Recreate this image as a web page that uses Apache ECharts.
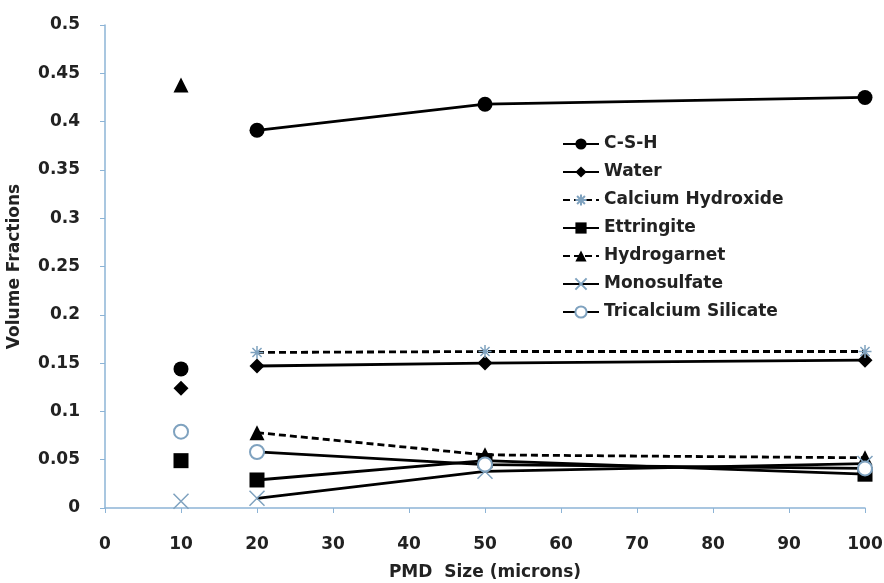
<!DOCTYPE html>
<html>
<head>
<meta charset="utf-8">
<script src="https://cdn.jsdelivr.net/npm/echarts@6/dist/echarts.min.js"></script>
<style>
  html, body { margin: 0; padding: 0; background: #ffffff; }
  #chart { width: 884px; height: 583px; }
</style>
</head>
<body>
<div id="chart"></div>
<script>
// PMD sizes (microns)
var sizes = [10, 20, 50, 100];

// volume fractions per phase, one value per size
var csh = [0.144, 0.391, 0.418, 0.425];
var water = [0.124, 0.147, 0.150, 0.153];
var calciumHydroxide = [0.079, 0.161, 0.162, 0.162];
var ettringite = [0.049, 0.029, 0.049, 0.035];
var hydrogarnet = [0.438, 0.078, 0.055, 0.052];
var monosulfate = [0.007, 0.010, 0.038, 0.046];
var tricalcium = [0.079, 0.058, 0.045, 0.041];

var xTicks = [0, 10, 20, 30, 40, 50, 60, 70, 80, 90, 100];
var yTicks = [0, 0.05, 0.1, 0.15, 0.2, 0.25, 0.3, 0.35, 0.4, 0.45, 0.5];

var axisBlue = "#8db4d6";
var markerGrey = "#7fa2bf";
var font = "DejaVu Sans";

// first size (10) stands alone, the rest are joined by a line
function toData(vals) {
  var d = [[sizes[0], vals[0]], [15, "-"]];
  for (var i = 1; i < sizes.length; i++) d.push([sizes[i], vals[i]]);
  return d;
}

var starPath = "path://M5,0L5,10M0,5L10,5M1.5,1.5L8.5,8.5M8.5,1.5L1.5,8.5";
var crossPath = "path://M0,0L10,10M10,0L0,10";

function makeSeries(name, vals, symbol, size, dashed, markerColor, filled) {
  return {
    name: name,
    type: "line",
    data: toData(vals),
    symbol: symbol,
    symbolSize: size,
    connectNulls: false,
    lineStyle: { color: "#000", width: 2.8, type: dashed ? [7, 4] : "solid" },
    itemStyle: filled
      ? { color: "#000" }
      : { color: markerColor, borderColor: markerColor, borderWidth: 1.5 },
    color: filled ? "#000" : markerColor,
  };
}

var myChart = echarts.init(document.getElementById("chart"));
var labelStyle = { fontFamily: font, fontWeight: "bold", fontSize: 17, color: "#222" };
var options = {
  backgroundColor: "#ffffff",
  animation: false,
  grid: { left: 105, right: 19, top: 25, bottom: 75, outerBoundsMode: "none", containLabel: false },
  legend: {
    orient: "vertical",
    left: 557,
    top: 129,
    itemGap: 8,
    itemWidth: 36,
    itemHeight: 14,
    textStyle: { fontFamily: font, fontWeight: "bold", fontSize: 17, color: "#222", lineHeight: 20 },
    data: ["C-S-H", "Water", "Calcium Hydroxide", "Ettringite", "Hydrogarnet", "Monosulfate", "Tricalcium Silicate"],
  },
  xAxis: {
    type: "value",
    min: 0,
    max: 100,
    interval: 10,
    name: "PMD  Size (microns)",
    nameLocation: "middle",
    nameGap: 56,
    nameTextStyle: labelStyle,
    axisLine: { lineStyle: { color: axisBlue, width: 1.5 } },
    axisTick: { show: true, length: 5, lineStyle: { color: axisBlue } },
    axisLabel: Object.assign({
      margin: 28,
      formatter: function (v) { return xTicks.indexOf(v) >= 0 ? String(v) : ""; },
    }, labelStyle),
    splitLine: { show: false },
  },
  yAxis: {
    type: "value",
    min: 0,
    max: 0.5,
    interval: 0.05,
    name: "Volume Fractions",
    nameLocation: "middle",
    nameGap: 82,
    nameTextStyle: labelStyle,
    axisLine: { show: true, lineStyle: { color: axisBlue, width: 1.5 } },
    axisTick: { show: true, length: 5, lineStyle: { color: axisBlue } },
    axisLabel: Object.assign({
      margin: 25,
      formatter: function (v) {
        var r = Math.round(v * 100) / 100;
        return yTicks.indexOf(r) >= 0 ? String(r) : "";
      },
    }, labelStyle),
    splitLine: { show: false },
  },
  series: [
    makeSeries("C-S-H", csh, "circle", 15, false, "#000", true),
    makeSeries("Water", water, "diamond", 15, false, "#000", true),
    makeSeries("Calcium Hydroxide", calciumHydroxide, starPath, 13, true, markerGrey, false),
    makeSeries("Ettringite", ettringite, "rect", 15, false, "#000", true),
    makeSeries("Hydrogarnet", hydrogarnet, "triangle", 15, true, "#000", true),
    makeSeries("Monosulfate", monosulfate, crossPath, 15, false, markerGrey, false),
    makeSeries("Tricalcium Silicate", tricalcium, "emptyCircle", 14, false, markerGrey, false),
  ],
};
myChart.setOption(options);
</script>
</body>
</html>
